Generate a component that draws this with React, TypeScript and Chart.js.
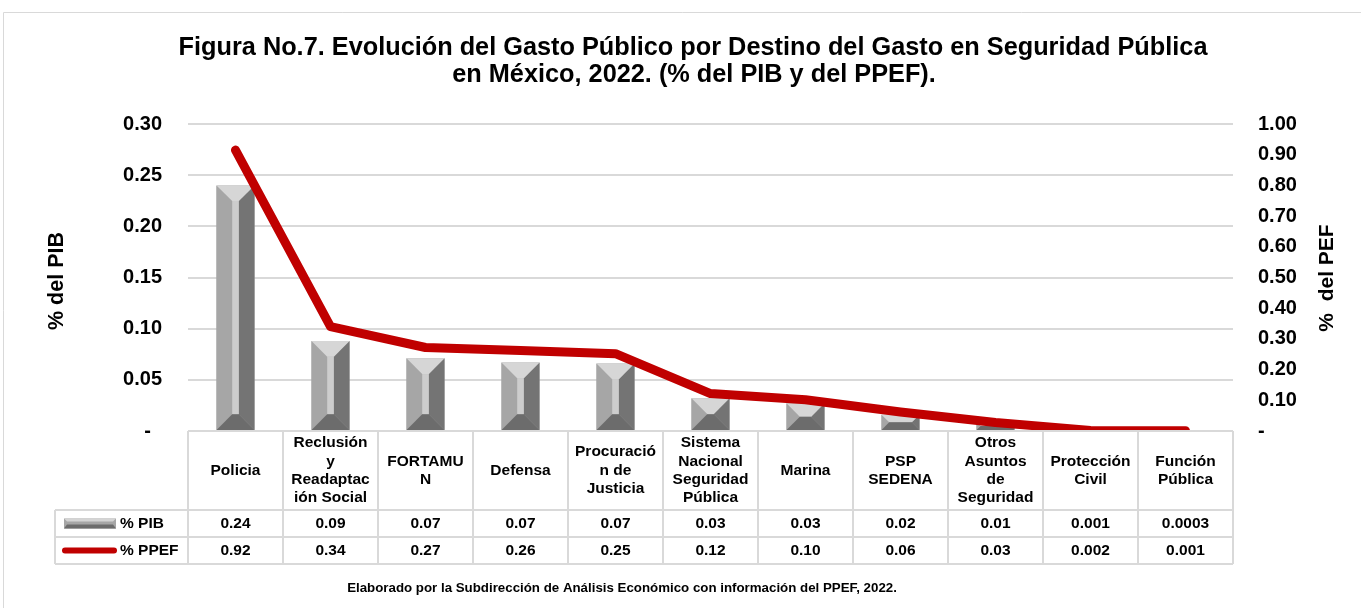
import React, { useEffect, useRef } from "react";
import { Chart, registerables } from "chart.js";

Chart.register(...registerables);

const FONT = '"Liberation Sans", Arial, Helvetica, sans-serif';

const titleLines = [
  "Figura No.7. Evolución del Gasto Público por Destino del Gasto en Seguridad Pública",
  "en México, 2022. (% del PIB y del PPEF).",
];
const footerText =
  "Elaborado por la Subdirección de Análisis Económico con información del PPEF, 2022.";
const leftAxisTitle = "% del PIB";
const rightAxisTitle = "%  del PEF";

const categories: string[][] = [
  ["Policia"],
  ["Reclusión", "y", "Readaptac", "ión Social"],
  ["FORTAMU", "N"],
  ["Defensa"],
  ["Procuració", "n de", "Justicia"],
  ["Sistema", "Nacional", "Seguridad", "Pública"],
  ["Marina"],
  ["PSP", "SEDENA"],
  ["Otros", "Asuntos", "de", "Seguridad"],
  ["Protección", "Civil"],
  ["Función", "Pública"],
];

const seriesNames = ["% PIB", "% PPEF"];
const pibValues = [0.24, 0.088, 0.071, 0.067, 0.066, 0.032, 0.027, 0.016, 0.009, 0.001, 0.0003];
const ppefValues = [0.915, 0.34, 0.272, 0.262, 0.252, 0.122, 0.102, 0.062, 0.028, 0.002, 0.001];
const pibText = ["0.24", "0.09", "0.07", "0.07", "0.07", "0.03", "0.03", "0.02", "0.01", "0.001", "0.0003"];
const ppefText = ["0.92", "0.34", "0.27", "0.26", "0.25", "0.12", "0.10", "0.06", "0.03", "0.002", "0.001"];

const leftMax = 0.3;
const leftStep = 0.05;
const rightMax = 1.0;
const rightStep = 0.1;

const GRID = "#d9d9d9";
const RED = "#c00000";

function poly(ctx: CanvasRenderingContext2D, pts: number[][], color: string) {
  ctx.beginPath();
  ctx.moveTo(pts[0][0], pts[0][1]);
  for (let i = 1; i < pts.length; i++) ctx.lineTo(pts[i][0], pts[i][1]);
  ctx.closePath();
  ctx.fillStyle = color;
  ctx.fill();
}

const bevelPlugin = {
  id: "bevelBars",
  afterDatasetDraw(chart: any, args: any) {
    if (args.meta.type !== "bar") return;
    const ctx: CanvasRenderingContext2D = chart.ctx;
    ctx.save();
    args.meta.data.forEach((el: any) => {
      const { x, y, base, width } = el.getProps(["x", "y", "base", "width"], true);
      const x0 = x - width / 2;
      const x1 = x + width / 2;
      const h = base - y;
      if (h <= 0) return;
      const s = 3.3;
      const d = Math.min(width / 2 - s, h / 2);
      const xl = x0 + d;
      const xr = x1 - d;
      poly(ctx, [[x0, y], [xl, y + d], [xl, base - d], [x0, base]], "#a6a6a6");
      poly(ctx, [[x1, y], [xr, y + d], [xr, base - d], [x1, base]], "#747474");
      poly(ctx, [[xl, y + d], [xr, y + d], [xr, base - d], [xl, base - d]], "#cdcdcd");
      poly(ctx, [[x0, y], [x1, y], [xr, y + d], [xl, y + d]], "#d6d6d6");
      poly(ctx, [[x0, base], [x1, base], [xr, base - d], [xl, base - d]], "#6c6c6c");
    });
    ctx.restore();
  },
};

const decorPlugin = {
  id: "decor",
  afterDraw(chart: any) {
    const ctx: CanvasRenderingContext2D = chart.ctx;
    const area = chart.chartArea;
    const xs = chart.scales.x;
    const n = chart.data.labels.length;
    const colW = (area.right - area.left) / n;
    const tableTop = area.bottom;
    const headBottom = 510;
    const row1Bottom = 537;
    const row2Bottom = 564;
    const legLeft = 55;

    ctx.save();
    ctx.strokeStyle = GRID;
    ctx.lineWidth = 1;
    ctx.beginPath();
    ctx.moveTo(3.5, 608);
    ctx.lineTo(3.5, 12.5);
    ctx.lineTo(1361, 12.5);
    ctx.stroke();

    ctx.fillStyle = "#000";
    ctx.textAlign = "center";
    ctx.textBaseline = "middle";
    ctx.font = `bold 25.3px ${FONT}`;
    ctx.fillText(titleLines[0], 693, 48);
    ctx.fillText(titleLines[1], 694, 75);

    ctx.font = `bold 21.5px ${FONT}`;
    ctx.save();
    ctx.translate(57, 281);
    ctx.rotate(-Math.PI / 2);
    ctx.fillText(leftAxisTitle, 0, 0);
    ctx.restore();
    ctx.font = `bold 21px ${FONT}`;
    ctx.save();
    ctx.translate(1327, 278);
    ctx.rotate(-Math.PI / 2);
    ctx.fillText(rightAxisTitle, 0, 0);
    ctx.restore();

    ctx.strokeStyle = GRID;
    ctx.lineWidth = 2;
    ctx.beginPath();
    ctx.moveTo(area.left, tableTop);
    ctx.lineTo(area.right, tableTop);
    [headBottom, row1Bottom, row2Bottom].forEach((yy) => {
      ctx.moveTo(legLeft, yy);
      ctx.lineTo(area.right, yy);
    });
    for (let i = 0; i <= n; i++) {
      const xx = area.left + colW * i;
      ctx.moveTo(xx, tableTop);
      ctx.lineTo(xx, row2Bottom);
    }
    ctx.moveTo(legLeft, headBottom);
    ctx.lineTo(legLeft, row2Bottom);
    ctx.stroke();

    ctx.fillStyle = "#000";
    ctx.font = `bold 15.5px ${FONT}`;
    ctx.textAlign = "center";
    ctx.textBaseline = "middle";
    const lh = 18.3;
    const headMid = (tableTop + headBottom) / 2;
    chart.data.labels.forEach((lab: string[], i: number) => {
      const cx = xs.getPixelForValue(i);
      const lines = Array.isArray(lab) ? lab : [lab];
      const startY = headMid - ((lines.length - 1) * lh) / 2;
      lines.forEach((t, j) => ctx.fillText(t, cx, startY + j * lh));
      ctx.fillText(pibText[i], cx, (headBottom + row1Bottom) / 2);
      ctx.fillText(ppefText[i], cx, (row1Bottom + row2Bottom) / 2);
    });

    const r1 = (headBottom + row1Bottom) / 2;
    const r2 = (row1Bottom + row2Bottom) / 2;
    ctx.fillStyle = "#a6a6a6";
    ctx.fillRect(64, r1 - 5, 52, 10);
    poly(ctx, [[64, r1 - 5], [116, r1 - 5], [113, r1 - 2], [67, r1 - 2]], "#d4d4d4");
    poly(ctx, [[64, r1 + 5], [116, r1 + 5], [113, r1 + 1], [67, r1 + 1]], "#6c6c6c");
    ctx.strokeStyle = RED;
    ctx.lineWidth = 6;
    ctx.lineCap = "round";
    ctx.beginPath();
    ctx.moveTo(65, r2);
    ctx.lineTo(114, r2);
    ctx.stroke();
    ctx.fillStyle = "#000";
    ctx.textAlign = "left";
    ctx.font = `bold 15.5px ${FONT}`;
    ctx.fillText(seriesNames[0], 120, r1);
    ctx.fillText(seriesNames[1], 120, r2);

    ctx.textAlign = "center";
    ctx.font = `bold 13.3px ${FONT}`;
    ctx.fillText(footerText, 622, 588);
    ctx.restore();
  },
};

export default function App() {
  const ref = useRef<HTMLCanvasElement>(null);
  useEffect(() => {
    if (!ref.current) return;
    const tickFont = { family: FONT, size: 20, weight: "bold" as const };
    const chart = new Chart(ref.current, {
      type: "bar",
      data: {
        labels: categories,
        datasets: [
          {
            type: "line",
            label: seriesNames[1],
            data: ppefValues,
            yAxisID: "y1",
            borderColor: RED,
            backgroundColor: RED,
            borderWidth: 9,
            pointRadius: 0,
            borderCapStyle: "round",
            borderJoinStyle: "round",
            tension: 0,
            order: 0,
            clip: { left: 20, right: 20, top: 20, bottom: 0 },
          } as any,
          {
            type: "bar",
            label: seriesNames[0],
            data: pibValues,
            yAxisID: "y",
            backgroundColor: "#a6a6a6",
            borderWidth: 0,
            categoryPercentage: 0.8,
            barPercentage: 0.5,
            order: 1,
          },
        ],
      },
      options: {
        animation: false,
        responsive: false,
        devicePixelRatio: 1,
        layout: { padding: { top: 124, bottom: 177, left: 0, right: 0 } },
        plugins: {
          legend: { display: false },
          tooltip: { enabled: false },
          title: { display: false },
        },
        scales: {
          x: { display: false, offset: true },
          y: {
            position: "left",
            min: 0,
            max: leftMax,
            afterFit: (s: any) => {
              s.width = 188;
            },
            ticks: {
              stepSize: leftStep,
              autoSkip: false,
              padding: 26,
              color: "#000",
              font: tickFont,
              callback: (v: any) => (Number(v) === 0 ? "-  " : Number(v).toFixed(2)),
            },
            grid: { color: GRID, lineWidth: 2, drawTicks: false },
            border: { display: false },
          },
          y1: {
            position: "right",
            min: 0,
            max: rightMax,
            afterFit: (s: any) => {
              s.width = 128;
            },
            ticks: {
              stepSize: rightStep,
              autoSkip: false,
              padding: 25,
              color: "#000",
              font: tickFont,
              callback: (v: any) => (Number(v) === 0 ? "-" : Number(v).toFixed(2)),
            },
            grid: { display: false, drawTicks: false },
            border: { display: false },
          },
        },
      },
      plugins: [bevelPlugin, decorPlugin],
    });
    return () => chart.destroy();
  }, []);
  return (
    <div style={{ position: "absolute", left: 0, top: 0, width: 1361, height: 608, background: "#fff" }}>
      <canvas ref={ref} width={1361} height={608} style={{ display: "block" }} />
    </div>
  );
}
